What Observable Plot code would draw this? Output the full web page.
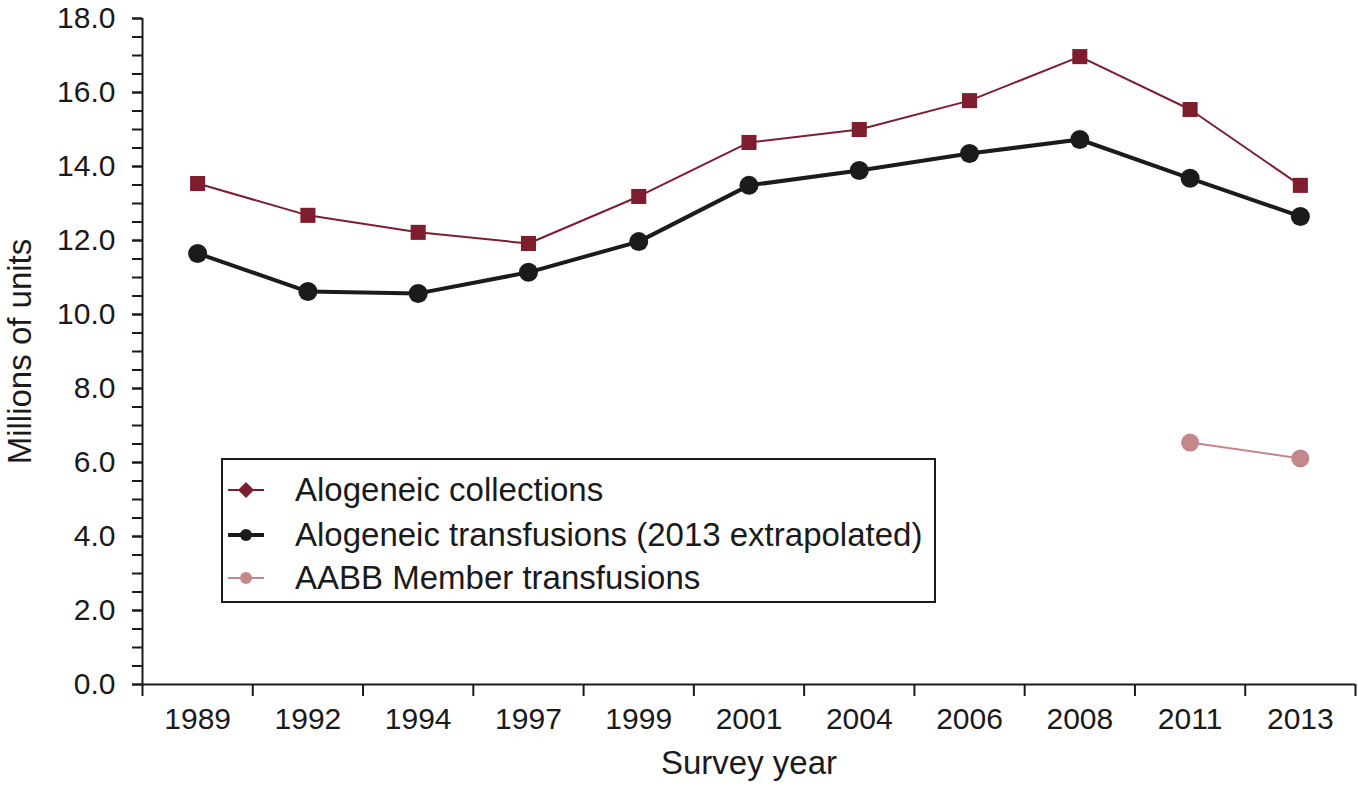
<!DOCTYPE html>
<html>
<head>
<meta charset="utf-8">
<script src="https://cdn.jsdelivr.net/npm/d3@7"></script>
<script src="https://cdn.jsdelivr.net/npm/@observablehq/plot@0.6"></script>
<style>
  html, body { margin: 0; padding: 0; background: #fff; }
  #wrap { position: relative; width: 1358px; height: 792px; font-family: "Liberation Sans", Arial, Helvetica, sans-serif; }
  #legend { position: absolute; left: 221px; top: 458px; width: 711px; height: 141px; border: 2px solid #1a1a1a; background: #fff; box-sizing: content-box; }
  .row { position: absolute; left: 0; height: 40px; display: flex; align-items: center; font-size: 33px; color: #1a1a1a; white-space: nowrap; }
  .row svg { margin-left: 5px; margin-right: 31px; }
</style>
</head>
<body>
<div id="wrap"></div>
<script>
const years = ["1989","1992","1994","1997","1999","2001","2004","2006","2008","2011","2013"];
const collections = [13.54, 12.68, 12.22, 11.92, 13.19, 14.65, 15.00, 15.78, 16.97, 15.54, 13.49];
const transfusions = [11.65, 10.62, 10.57, 11.14, 11.97, 13.49, 13.89, 14.35, 14.73, 13.68, 12.65];
const aabbYears = ["2011","2013"];
const aabb = [6.54, 6.11];
const yTicks = [0, 2, 4, 6, 8, 10, 12, 14, 16, 18];
const seriesNames = ["Alogeneic collections", "Alogeneic transfusions (2013 extrapolated)", "AABB Member transfusions"];

const maroon = "#7e1d2e", black = "#1c1a1b", pink = "#c4878b";
const idx = y => years.indexOf(y);

const coll = years.map((y, i) => ({i, v: collections[i]}));
const trans = years.map((y, i) => ({i, v: transfusions[i]}));
const mem = aabbYears.map((y, k) => ({i: idx(y), v: aabb[k]}));

const centers = years.map((y, i) => i);
const bounds = d3.range(-0.5, years.length, 1);
const minor = d3.range(0, 18.01, 0.5);

const font = "Liberation Sans, Arial, Helvetica, sans-serif";
const blank = () => "";

const plot = Plot.plot({
  width: 1358,
  height: 792,
  marginLeft: 142,
  marginRight: 3,
  marginTop: 18,
  marginBottom: 108,
  style: {fontFamily: font, fontSize: "30px", color: "#1a1a1a", background: "#fff"},
  x: {type: "linear", domain: [-0.5, years.length - 0.5]},
  y: {domain: [0, 18]},
  marks: [
    Plot.axisY(minor, {tickSize: 10, tickFormat: blank, strokeWidth: 2, label: null}),
    Plot.axisY(yTicks, {tickSize: 10, tickPadding: 17, tickFormat: d => d.toFixed(1), fontSize: 30, strokeWidth: 2, label: null}),
    Plot.axisX(bounds, {tickSize: 12, tickFormat: blank, strokeWidth: 2, label: null}),
    Plot.axisX(centers, {tickSize: 0, tickPadding: 23, tickFormat: i => years[i], fontSize: 30, label: null}),
    Plot.ruleY([0], {stroke: black, strokeWidth: 2}),
    Plot.ruleX([-0.5], {stroke: black, strokeWidth: 2}),
    Plot.line(coll, {x: "i", y: "v", stroke: maroon, strokeWidth: 2}),
    Plot.dot(coll, {x: "i", y: "v", symbol: "square", r: 8.5, fill: maroon}),
    Plot.line(trans, {x: "i", y: "v", stroke: black, strokeWidth: 4}),
    Plot.dot(trans, {x: "i", y: "v", r: 9.5, fill: black}),
    Plot.line(mem, {x: "i", y: "v", stroke: pink, strokeWidth: 2}),
    Plot.dot(mem, {x: "i", y: "v", r: 9, fill: pink}),
    Plot.text(["Survey year"], {frameAnchor: "bottom", dy: 89, fontSize: 33, fill: black}),
    Plot.text(["Millions of units"], {frameAnchor: "left", textAnchor: "middle", lineAnchor: "middle", rotate: -90, dx: -122, fontSize: 33, fill: black})
  ]
});

const wrap = document.getElementById("wrap");
wrap.appendChild(plot);

const legend = document.createElement("div");
legend.id = "legend";
const sym = [
  `<svg width="36" height="20"><line x1="0" y1="10" x2="36" y2="10" stroke="${maroon}" stroke-width="2"/><path d="M18 2 L26 10 L18 18 L10 10 Z" fill="${maroon}"/></svg>`,
  `<svg width="36" height="20"><line x1="0" y1="10" x2="36" y2="10" stroke="${black}" stroke-width="4"/><circle cx="18" cy="10" r="6" fill="${black}"/></svg>`,
  `<svg width="36" height="20"><line x1="0" y1="10" x2="36" y2="10" stroke="${pink}" stroke-width="2"/><circle cx="18" cy="10" r="6" fill="${pink}"/></svg>`
];
const tops = [10, 55, 98];
seriesNames.forEach((name, k) => {
  const r = document.createElement("div");
  r.className = "row";
  r.style.top = tops[k] + "px";
  r.innerHTML = sym[k] + `<span>${name}</span>`;
  legend.appendChild(r);
});
wrap.appendChild(legend);
</script>
</body>
</html>
